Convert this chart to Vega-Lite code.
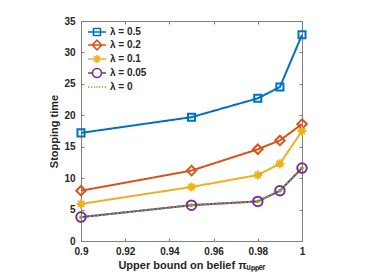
{
  "$schema": "https://vega.github.io/schema/vega-lite/v6.json",
  "width": 221,
  "height": 220,
  "autosize": {"type": "none"},
  "padding": {"left": 81, "top": 21, "right": 69, "bottom": 37},
  "background": "white",
  "config": {
    "view": {"stroke": null},
    "font": "Liberation Sans",
    "legend": {"rowPadding": -4},
    "axis": {
      "domainColor": "#7f7f7f",
      "tickColor": "#7f7f7f",
      "tickSize": -3,
      "grid": false,
      "labelFont": "Liberation Sans",
      "labelFontSize": 10,
      "labelFontWeight": "bold",
      "labelColor": "#262626",
      "titleFont": "Liberation Sans",
      "titleFontSize": 11,
      "titleFontWeight": "bold",
      "titleColor": "#262626"
    }
  },
  "data": {
    "values": [
      {"x": 0.9, "y": 17.2, "s": "λ = 0.5"},
      {"x": 0.95, "y": 19.7, "s": "λ = 0.5"},
      {"x": 0.98, "y": 22.7, "s": "λ = 0.5"},
      {"x": 0.99, "y": 24.5, "s": "λ = 0.5"},
      {"x": 1.0, "y": 32.8, "s": "λ = 0.5"},
      {"x": 0.9, "y": 8.0, "s": "λ = 0.2"},
      {"x": 0.95, "y": 11.2, "s": "λ = 0.2"},
      {"x": 0.98, "y": 14.6, "s": "λ = 0.2"},
      {"x": 0.99, "y": 16.0, "s": "λ = 0.2"},
      {"x": 1.0, "y": 18.6, "s": "λ = 0.2"},
      {"x": 0.9, "y": 5.9, "s": "λ = 0.1"},
      {"x": 0.95, "y": 8.6, "s": "λ = 0.1"},
      {"x": 0.98, "y": 10.5, "s": "λ = 0.1"},
      {"x": 0.99, "y": 12.3, "s": "λ = 0.1"},
      {"x": 1.0, "y": 17.5, "s": "λ = 0.1"},
      {"x": 0.9, "y": 3.8, "s": "λ = 0.05"},
      {"x": 0.95, "y": 5.7, "s": "λ = 0.05"},
      {"x": 0.98, "y": 6.3, "s": "λ = 0.05"},
      {"x": 0.99, "y": 8.0, "s": "λ = 0.05"},
      {"x": 1.0, "y": 11.6, "s": "λ = 0.05"},
      {"x": 0.9, "y": 3.8, "s": "λ = 0"},
      {"x": 0.95, "y": 5.7, "s": "λ = 0"},
      {"x": 0.98, "y": 6.3, "s": "λ = 0"},
      {"x": 0.99, "y": 8.0, "s": "λ = 0"},
      {"x": 1.0, "y": 11.6, "s": "λ = 0"}
    ]
  },
  "layer": [
    {
      "mark": {"type": "line", "strokeWidth": 2, "clip": false},
      "encoding": {
        "x": {"field": "x", "type": "quantitative",
          "scale": {"domain": [0.9, 1], "nice": false, "zero": false},
          "axis": {"orient": "bottom", "values": [0.9, 0.92, 0.94, 0.96, 0.98, 1], "format": "~g", "labelPadding": 8, "title": "Upper bound on belief πᵤₚₚₑᵣ", "titlePadding": 3, "labelFlush": false}},
        "y": {"field": "y", "type": "quantitative",
          "scale": {"domain": [0, 35], "nice": false},
          "axis": {"orient": "left", "values": [0, 5, 10, 15, 20, 25, 30, 35], "labelPadding": 9, "title": "Stopping time", "titlePadding": 4}},
        "color": {"field": "s", "type": "nominal",
          "scale": {"domain": ["λ = 0.5", "λ = 0.2", "λ = 0.1", "λ = 0.05", "λ = 0"], "range": ["#0072BD", "#D95319", "#EDB120", "#7E2F8E", "#77AC30"]},
          "legend": null},
        "strokeDash": {"field": "s", "type": "nominal",
          "scale": {"domain": ["λ = 0.5", "λ = 0.2", "λ = 0.1", "λ = 0.05", "λ = 0"], "range": [[1, 0], [1, 0], [1, 0], [1, 0], [2, 2]]},
          "legend": null},
        "order": {"field": "x", "type": "quantitative"}
      }
    },
    {
      "mark": {"type": "point", "filled": false, "strokeWidth": 2, "clip": false, "opacity": 1},
      "encoding": {
        "x": {"field": "x", "type": "quantitative", "axis": null},
        "y": {"field": "y", "type": "quantitative", "axis": null},
        "color": {"field": "s", "type": "nominal",
          "scale": {"domain": ["λ = 0.5", "λ = 0.2", "λ = 0.1", "λ = 0.05", "λ = 0"], "range": ["#0072BD", "#D95319", "#EDB120", "#7E2F8E", "#77AC30"]},
          "legend": null},
        "shape": {"field": "s", "type": "nominal",
          "scale": {"domain": ["λ = 0.5", "λ = 0.2", "λ = 0.1", "λ = 0.05", "λ = 0"], "range": ["square", "diamond", "M-1,0H1M0,-1V1M-0.7,-0.7L0.7,0.7M-0.7,0.7L0.7,-0.7", "circle", "circle"]},
          "legend": null},
        "size": {"field": "s", "type": "nominal",
          "scale": {"type": "ordinal", "domain": ["λ = 0.5", "λ = 0.2", "λ = 0.1", "λ = 0.05", "λ = 0"], "range": [50, 90, 80, 90, 3]},
          "legend": null}
      }
    },
    {
      "mark": {"type": "point", "filled": false, "strokeWidth": 1.6, "opacity": 0},
      "encoding": {
        "x": {"field": "x", "type": "quantitative",
          "axis": {"orient": "top", "values": [0.9, 0.92, 0.94, 0.96, 0.98, 1], "labels": false, "title": null}},
        "y": {"field": "y", "type": "quantitative",
          "axis": {"orient": "right", "values": [0, 5, 10, 15, 20, 25, 30, 35], "labels": false, "title": null}},
        "color": {"field": "s", "type": "nominal",
          "scale": {"domain": ["λ = 0.5", "λ = 0.2", "λ = 0.1", "λ = 0.05", "λ = 0"], "range": ["#0072BD", "#D95319", "#EDB120", "#7E2F8E", "#77AC30"]},
          "legend": {
            "orient": "none",
            "legendX": 10,
            "legendY": 5,
            "title": null,
            "padding": 0,
            "symbolSize": 100,
            "symbolStrokeWidth": 1.6,
            "symbolFillColor": "transparent",
            "labelFont": "Liberation Sans",
            "labelFontSize": 10,
            "labelFontWeight": "bold",
            "labelColor": "#262626",
            "labelOffset": 7,
            "rowPadding": -4,
            "symbolOpacity": 1
          }},
        "shape": {"field": "s", "type": "nominal",
          "scale": {"domain": ["λ = 0.5", "λ = 0.2", "λ = 0.1", "λ = 0.05", "λ = 0"], "range": [
            "M-1.8,0H1.8M-0.7,-0.7H0.7V0.7H-0.7Z",
            "M-1.8,0H1.8M0,-0.95L0.95,0L0,0.95L-0.95,0Z",
            "M-1.8,0H1.8M0,-0.8V0.8M-0.57,-0.57L0.57,0.57M-0.57,0.57L0.57,-0.57",
            "M-1.8,0H-0.9M0.9,0H1.8M0.9,0A0.9,0.9 0 1,1 -0.9,0A0.9,0.9 0 1,1 0.9,0Z",
            "M-1.8,0H-1.55M-1.2,0H-0.95M-0.6,0H-0.35M-0.12,0H0.12M0.35,0H0.6M0.95,0H1.2M1.55,0H1.8"
          ]},
          "legend": {
            "orient": "none",
            "legendX": 10,
            "legendY": 5,
            "title": null,
            "padding": 0,
            "symbolSize": 100,
            "symbolStrokeWidth": 1.6,
            "symbolFillColor": "transparent",
            "labelFont": "Liberation Sans",
            "labelFontSize": 10,
            "labelFontWeight": "bold",
            "labelColor": "#262626",
            "labelOffset": 7,
            "rowPadding": -4,
            "symbolOpacity": 1
          }}
      }
    }
  ],
  "resolve": {"scale": {"shape": "independent", "color": "independent", "size": "independent", "strokeDash": "independent"}, "axis": {"x": "independent", "y": "independent"}}
}
